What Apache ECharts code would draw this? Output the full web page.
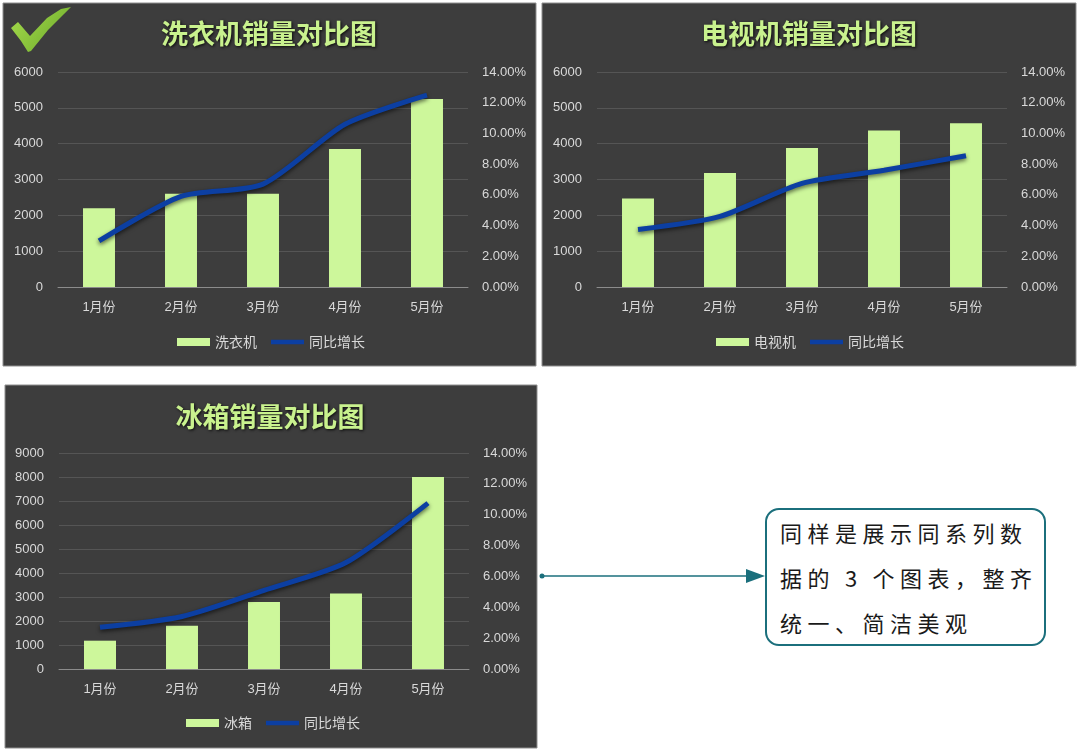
<!DOCTYPE html>
<html>
<head>
<meta charset="utf-8">
<script src="https://cdn.jsdelivr.net/npm/echarts@6/dist/echarts.min.js"></script>
<style>
  html, body { margin: 0; padding: 0; background: #ffffff; }
  #chart { position: absolute; left: 0; top: 0; width: 1080px; height: 752px; }
  #note {
    position: absolute; left: 765px; top: 508px; width: 264px; height: 134px;
    border: 2.5px solid #1b6f7c; border-radius: 14px; background: #ffffff;
    font-family: 'Noto Sans CJK SC', sans-serif; font-size: 22px; color: #1a1a1a;
    letter-spacing: 5.5px; line-height: 45px; padding-left: 13px; box-sizing: content-box;
    white-space: nowrap; overflow: hidden;
  }
</style>
</head>
<body>
<div id="chart"></div>
<div id="note">同样是展示同系列数<br>据的&#8201;3&#8201;个图表，整齐<br>统一、简洁美观</div>
<script>
// ---- data ----
const categories = ['1月份', '2月份', '3月份', '4月份', '5月份'];
const growthName = '同比增长';

const washerTitle = '洗衣机销量对比图';
const washerName = '洗衣机';
const washerSales = [2200, 2600, 2600, 3850, 5250];
const washerGrowth = [3.0, 5.9, 6.7, 10.6, 12.5];

const tvTitle = '电视机销量对比图';
const tvName = '电视机';
const tvSales = [2470, 3180, 3880, 4370, 4570];
const tvGrowth = [3.75, 4.6, 6.75, 7.6, 8.55];

const fridgeTitle = '冰箱销量对比图';
const fridgeName = '冰箱';
const fridgeSales = [1180, 1800, 2790, 3150, 8000];
const fridgeGrowth = [2.7, 3.4, 5.1, 6.9, 10.75];

const salesMax = [6000, 6000, 9000];
const growthMax = 14;

// ---- style / layout ----
const panelBg = '#3d3d3d';
const barColor = '#cdf79b';
const lineColor = '#0c3fa2';
const labelColor = '#d9d9d9';
const fontFamily = "'Liberation Sans','Noto Sans CJK SC',sans-serif";

const charts = [
  { title: washerTitle, name: washerName, sales: washerSales, growth: washerGrowth,
    grid: { left: 58, top: 72, width: 410, height: 215 }, titlePos: { left: 269, top: 20 }, legendPos: { left: 177, top: 335 } },
  { title: tvTitle, name: tvName, sales: tvSales, growth: tvGrowth,
    grid: { left: 597, top: 72, width: 410, height: 215 }, titlePos: { left: 809, top: 20 }, legendPos: { left: 716, top: 335 } },
  { title: fridgeTitle, name: fridgeName, sales: fridgeSales, growth: fridgeGrowth,
    grid: { left: 59, top: 453, width: 410, height: 216 }, titlePos: { left: 270, top: 403 }, legendPos: { left: 186, top: 716 } }
];

const option = {
  backgroundColor: '#ffffff',
  animation: false,
  title: [], legend: [], grid: [], xAxis: [], yAxis: [], series: [],
  graphic: []
};

// panel backgrounds
const panels = [
  { x: 3, y: 3, width: 533, height: 363 },
  { x: 542, y: 3, width: 534, height: 363 },
  { x: 5, y: 385, width: 532, height: 363 }
];
panels.forEach(p => {
  option.graphic.push({ type: 'rect', z: -10, silent: true, shape: p,
    style: { fill: panelBg, stroke: '#8f8f8f', lineWidth: 1 } });
});

charts.forEach((c, i) => {
  option.title.push({
    text: c.title, left: c.titlePos.left, top: c.titlePos.top, textAlign: 'center', padding: 0,
    textStyle: { color: '#c9f28e', fontSize: 27, fontWeight: 'bold', lineHeight: 27,
      fontFamily: "'Noto Sans CJK SC',sans-serif",
      textShadowColor: 'rgba(0,0,0,0.85)', textShadowBlur: 3, textShadowOffsetX: 1, textShadowOffsetY: 1 }
  });
  option.legend.push({
    left: c.legendPos.left, top: c.legendPos.top, padding: 0, itemGap: 14,
    itemWidth: 33, itemHeight: 8, symbolKeepAspect: true,
    data: [{ name: c.name, icon: 'rect' }, { name: growthName, icon: 'path://M0,0H35V5H0Z' }],
    textStyle: { color: labelColor, fontSize: 14, fontFamily: "'Noto Sans CJK SC',sans-serif" },
    selectedMode: false
  });
  option.grid.push(Object.assign({ containLabel: false }, c.grid));
  option.xAxis.push({
    type: 'category', gridIndex: i, data: categories, boundaryGap: true,
    axisTick: { show: false },
    axisLine: { lineStyle: { color: '#8c8c8c', width: 1 } },
    axisLabel: { color: labelColor, fontSize: 13, margin: 14, fontFamily: fontFamily }
  });
  option.yAxis.push({
    type: 'value', gridIndex: i, min: 0, max: salesMax[i], interval: 1000,
    axisLine: { show: false }, axisTick: { show: false },
    splitLine: { lineStyle: { color: '#555555', width: 1 } },
    axisLabel: { color: labelColor, fontSize: 13, margin: 15, fontFamily: fontFamily,
      formatter: v => String(v) }
  });
  option.yAxis.push({
    type: 'value', gridIndex: i, position: 'right', min: 0, max: growthMax, interval: 2,
    axisLine: { show: false }, axisTick: { show: false }, splitLine: { show: false },
    axisLabel: { color: labelColor, fontSize: 13, margin: 14, fontFamily: fontFamily,
      formatter: v => v.toFixed(2) + '%' }
  });
  option.series.push({
    type: 'bar', name: c.name, xAxisIndex: i, yAxisIndex: i * 2, data: c.sales,
    barWidth: '39%', itemStyle: { color: barColor }
  });
  option.series.push({
    type: 'line', name: growthName, xAxisIndex: i, yAxisIndex: i * 2 + 1, data: c.growth,
    symbol: 'none', smooth: 0.25, z: 5,
    lineStyle: { color: lineColor, width: 5, shadowColor: 'rgba(0,0,0,0.6)', shadowBlur: 4, shadowOffsetY: 2 },
    itemStyle: { color: lineColor }
  });
});

// check mark
option.graphic.push({
  type: 'polygon', z: 10, silent: true,
  shape: { points: [[11, 28], [18, 22], [30, 36], [47, 18], [61, 9], [71, 7], [64, 14], [48, 30], [31, 51], [28, 52], [21, 41]] },
  style: { fill: new echarts.graphic.LinearGradient(0, 0, 1, 1, [
    { offset: 0, color: '#a6dc4c' }, { offset: 1, color: '#6aa82a' }]) }
});

// callout arrow
option.graphic.push({ type: 'line', z: 10, silent: true,
  shape: { x1: 542, y1: 576, x2: 750, y2: 576 }, style: { stroke: '#1b6f7c', lineWidth: 1.5 } });
option.graphic.push({ type: 'circle', z: 10, silent: true,
  shape: { cx: 542, cy: 576, r: 2.5 }, style: { fill: '#1b6f7c' } });
option.graphic.push({ type: 'polygon', z: 10, silent: true,
  shape: { points: [[746, 569], [765, 576], [746, 583]] }, style: { fill: '#1b6f7c' } });

const chart = echarts.init(document.getElementById('chart'), null, { renderer: 'canvas' });
chart.setOption(option);
</script>
</body>
</html>
